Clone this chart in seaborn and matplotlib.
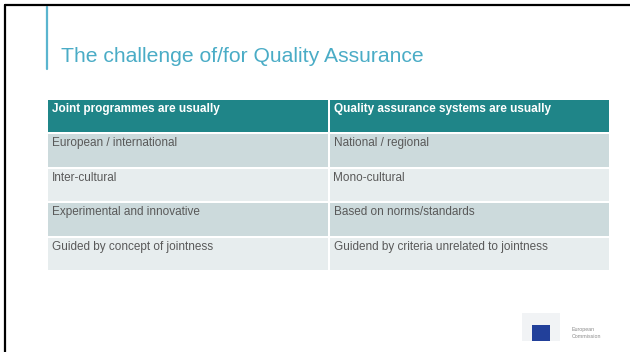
import numpy as np
import pandas as pd
import matplotlib.pyplot as plt
import seaborn as sns
from matplotlib.colors import ListedColormap
from matplotlib.patches import Rectangle
from matplotlib.lines import Line2D

title = 'The challenge of/for Quality Assurance'
headers = ['Joint programmes are usually', 'Quality assurance systems are usually']
joint = ['European / international', 'Inter-cultural',
         'Experimental and innovative', 'Guided by concept of jointness']
qa = ['National / regional', 'Mono-cultural',
      'Based on norms/standards', 'Guidend by criteria unrelated to jointness']

sns.set_style('white')
plt.rcParams['font.family'] = ['Liberation Sans', 'DejaVu Sans']

W, H = 630, 352
fig = plt.figure(figsize=(W / 100, H / 100), dpi=100)

# table area in pixels
left, right, top, bottom = 47, 610, 99, 271
ax = fig.add_axes([left / W, 1 - bottom / H, (right - left) / W, (bottom - top) / H])

cells = pd.DataFrame([headers] + [[a, b] for a, b in zip(joint, qa)])
# 0 = header, 1 = dark row, 2 = light row
kind = np.array([[0, 0]] + [[1 + i % 2] * 2 for i in range(len(joint))])
cmap = ListedColormap(['#1f8588', '#ccdadc', '#e7edee'])
sns.heatmap(kind, ax=ax, cmap=cmap, vmin=-0.5, vmax=2.5, cbar=False,
            linewidths=1.2, linecolor='white', xticklabels=False, yticklabels=False)

col_w = (right - left) / 2
row_h = (bottom - top) / len(cells)
for i in range(len(cells)):
    for j in range(2):
        txt = cells.iloc[i, j]
        if i == 0:
            ax.text(j + 5 / col_w, i + 10 / row_h, txt, color='white', fontweight='bold',
                    fontsize=8.5, va='center', ha='left')
        else:
            ax.text(j + 5 / col_w, i + 10 / row_h, txt, color='#595959',
                    fontsize=8.5, va='center', ha='left')

# title and accent line
fig.text(61 / W, 1 - 62 / H, title, fontsize=15.2, color='#4aacc6', va='baseline', ha='left')
fig.add_artist(Line2D([46.5 / W, 46.5 / W], [1 - 7 / H, 1 - 69 / H], color='#5ab5cf', lw=1.6))

# slide frame
fig.add_artist(Line2D([4.5 / W, 4.5 / W], [0, 1 - 5 / H], color='black', lw=1.6))
fig.add_artist(Line2D([4.5 / W, 1], [1 - 5 / H, 1 - 5 / H], color='black', lw=1.6))

# logo
fig.add_artist(Rectangle((522 / W, 1 - 341 / H), 38 / W, 28 / H, transform=fig.transFigure,
                         color='#f1f3f5', lw=0))
fig.add_artist(Rectangle((532 / W, 1 - 341 / H), 18 / W, 16 / H, transform=fig.transFigure,
                         color='#22409a', lw=0))
fig.text(572 / W, 1 - 333 / H, 'European\nCommission', fontsize=3.8, color='#8a8a8a',
         va='center', ha='left', linespacing=1.5)

fig.savefig('out.png', dpi=100)
